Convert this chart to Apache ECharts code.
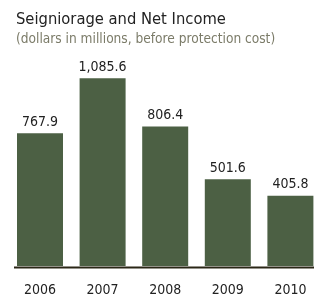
<!DOCTYPE html>
<html><head><meta charset="utf-8">
<script src="https://cdn.jsdelivr.net/npm/echarts@6/dist/echarts.min.js"></script>
<style>html,body{margin:0;padding:0;background:#fff;overflow:hidden}#c{width:330px;height:297px}</style>
</head><body><div id="c"></div>
<script>
var years = ['2006', '2007', '2008', '2009', '2010'];
var values = [767.9, 1085.6, 806.4, 501.6, 405.8];
var titleText = 'Seigniorage and Net Income';
var subtitleText = '(dollars in millions, before protection cost)';

var FONT = '"DejaVu Sans Condensed", "DejaVu Sans", sans-serif';
var chart = echarts.init(document.getElementById('c'), null, {renderer: 'canvas'});
function fmt(v) {
  return v.toLocaleString('en-US', {minimumFractionDigits: 1, maximumFractionDigits: 1});
}
chart.setOption({
  animation: false,
  title: {
    text: titleText,
    subtext: subtitleText,
    left: 16,
    top: 12,
    itemGap: 4,
    padding: 0,
    textStyle: {fontFamily: FONT, fontSize: 16.4, fontWeight: 'normal', color: '#222222'},
    subtextStyle: {fontFamily: FONT, fontSize: 13.6, color: '#7b7b68'}
  },
  grid: {left: 8.7, width: 313, top: 58.5, bottom: 30, containLabel: false},
  xAxis: {
    type: 'category',
    data: years,
    axisLine: {show: false},
    axisTick: {show: false},
    axisLabel: {fontFamily: FONT, fontSize: 14, color: '#222222', margin: 17}
  },
  yAxis: {
    type: 'value', min: 0, max: 1200,
    show: false,
    splitLine: {show: false}
  },
  series: [{
    type: 'bar',
    data: values,
    barWidth: 46,
    itemStyle: {color: '#4c6044'},
    label: {
      show: true, position: 'top', distance: 4,
      fontFamily: FONT, fontSize: 14, color: '#222222',
      formatter: function (p) { return fmt(p.value); }
    }
  }],
  graphic: [{
    type: 'line', z: 100,
    shape: {x1: 14, y1: 267.5, x2: 330, y2: 267.5},
    style: {stroke: '#2a2616', lineWidth: 2}
  }]
});
</script></body></html>
